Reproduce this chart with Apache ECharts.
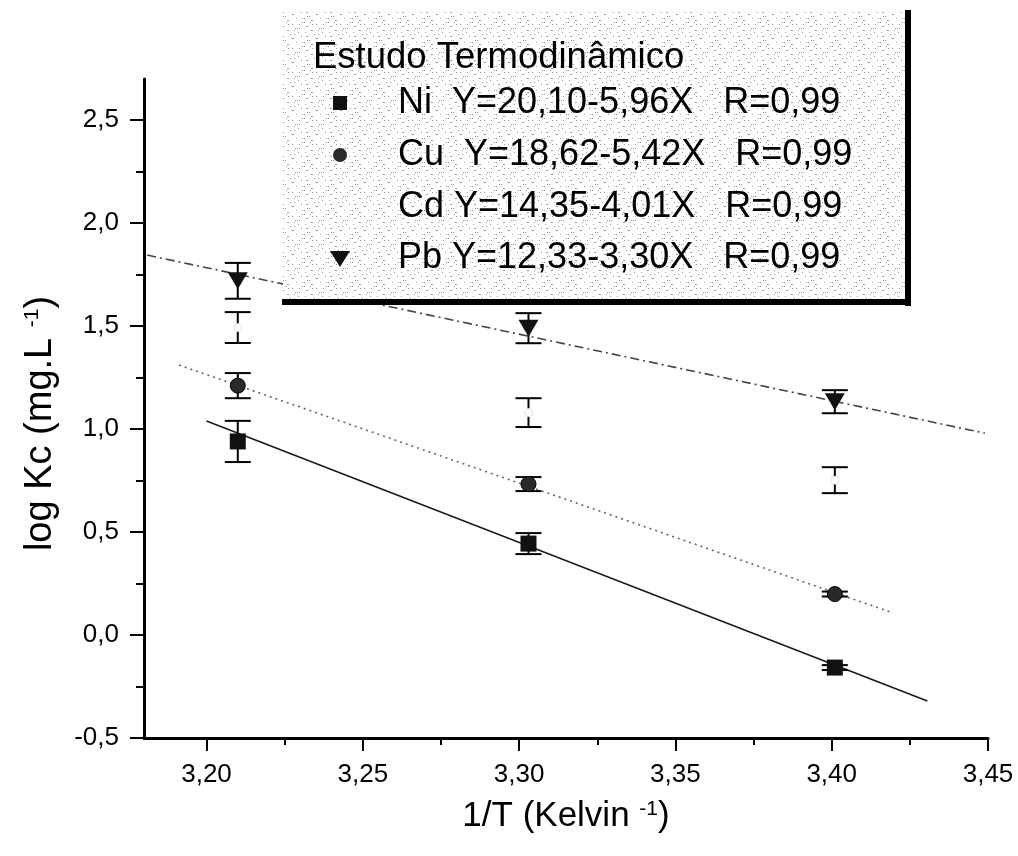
<!DOCTYPE html>
<html><head><meta charset="utf-8">
<script src="https://cdn.jsdelivr.net/npm/echarts@6/dist/echarts.min.js"></script>
<style>html,body{margin:0;padding:0;background:#fff}#c{width:1018px;height:856px}</style>
</head><body><div id="c"></div>
<script>
// ---- data ----
const xValues = [3.210, 3.303, 3.401];
const niValues = [0.940, 0.444, -0.158];
const niErrors = [0.100, 0.051, 0.012];
const cuValues = [1.211, 0.733, 0.199];
const cuErrors = [0.061, 0.034, 0.012];
const cdValues = [1.493, 1.080, 0.752];
const cdErrors = [0.075, 0.070, 0.063];
const pbValues = [1.720, 1.490, 1.133];
const pbErrors = [0.087, 0.073, 0.056];
// fitted line end points (as drawn)
const niFitX = [3.200, 3.4306];
const niFitY = [1.039, -0.320];
const cuFitX = [3.1912, 3.4197];
const cuFitY = [1.311, 0.107];
const pbFitX = [3.181, 3.449];
const pbFitY = [1.845, 0.980];
// ticks
const xTicks = [3.20, 3.25, 3.30, 3.35, 3.40, 3.45];
const xMinorTicks = [3.225, 3.275, 3.325, 3.375, 3.425];
const yTicks = [-0.5, 0, 0.5, 1.0, 1.5, 2.0, 2.5];
const yMinorTicks = [-0.25, 0.25, 0.75, 1.25, 1.75, 2.25];
// legend texts
const legendTitle = 'Estudo Termodinâmico';
const legendLabels = [
  'Ni  Y=20,10-5,96X   R=0,99',
  'Cu  Y=18,62-5,42X   R=0,99',
  'Cd Y=14,35-4,01X   R=0,99',
  'Pb Y=12,33-3,30X   R=0,99'
];

const FONT = "'Liberation Sans', Arial, sans-serif";
const chart = echarts.init(document.getElementById('c'), null, {renderer: 'canvas'});

// stipple texture for the legend box (decoration only)
const pat = document.createElement('canvas');
pat.width = 24; pat.height = 24;
(function(){
  const g = pat.getContext('2d');
  g.fillStyle = '#ffffff'; g.fillRect(0, 0, 24, 24);
  g.fillStyle = '#9a9a9a';
  for (let i = 0; i < 30; i++) {
    const px = (i * 7 + (i * i) % 11) % 24;
    const py = (i * 13 + 5 * (i % 4)) % 24;
    g.fillRect(px, py, 1, 1);
  }
})();

function pairs(xs, ys) { return xs.map((x, i) => [x, ys[i]]); }

function errorSeries(name, vals, errs) {
  return {
    type: 'custom', name: name + ' error', silent: true, z: 4,
    xAxisIndex: 0, yAxisIndex: 0,
    data: xValues.map((x, i) => [x, vals[i], errs[i]]),
    encode: {x: 0, y: 1},
    renderItem: function (params, api) {
      const x = api.value(0), y = api.value(1), e = api.value(2);
      const top = api.coord([x, y + e]);
      const bot = api.coord([x, y - e]);
      const hw = 13;
      const st = {stroke: '#000', lineWidth: 2};
      return {type: 'group', children: [
        {type: 'line', shape: {x1: top[0], y1: top[1], x2: bot[0], y2: bot[1]}, style: st},
        {type: 'line', shape: {x1: top[0] - hw, y1: top[1], x2: top[0] + hw, y2: top[1]}, style: st},
        {type: 'line', shape: {x1: bot[0] - hw, y1: bot[1], x2: bot[0] + hw, y2: bot[1]}, style: st}
      ]};
    }
  };
}

function fitSeries(name, xs, ys, color, type) {
  return {
    type: 'line', name: name + ' fit', data: pairs(xs, ys), showSymbol: false, symbol: 'none',
    silent: true, z: 2, xAxisIndex: 0, yAxisIndex: 0,
    lineStyle: {color: color, width: 1.6, type: type}
  };
}

const grid = {left: 144, top: 79, width: 844, height: 659};
const rowY = [103, 155, 207, 258];
const supStyle = {fontSize: 21, fontFamily: FONT, color: '#000', verticalAlign: 'top'};

const option = {
  animation: false,
  backgroundColor: '#fff',
  grid: [Object.assign({}, grid), Object.assign({}, grid)],
  xAxis: [{
    type: 'value', gridIndex: 0, min: 3.18, max: 3.45, position: 'bottom',
    axisLine: {show: true, onZero: false, lineStyle: {color: '#000', width: 3}},
    axisTick: {show: true, customValues: xTicks, length: 13, lineStyle: {color: '#000', width: 2}},
    axisLabel: {show: true, customValues: xTicks, margin: 24, color: '#000', fontSize: 26, fontFamily: FONT,
      formatter: v => v.toFixed(2).replace('.', ',')},
    splitLine: {show: false},
    name: '1/T (Kelvin {sup|-1})', nameLocation: 'middle', nameGap: 61,
    nameTextStyle: {color: '#000', fontSize: 35, fontFamily: FONT, rich: {sup: supStyle}}
  }, {
    type: 'value', gridIndex: 1, min: 3.18, max: 3.45, position: 'bottom',
    axisLine: {show: false, onZero: false},
    axisTick: {show: true, customValues: xMinorTicks, length: 7, lineStyle: {color: '#000', width: 2}},
    axisLabel: {show: false}, splitLine: {show: false}
  }],
  yAxis: [{
    type: 'value', gridIndex: 0, min: -0.5, max: 2.7, position: 'left',
    axisLine: {show: true, onZero: false, lineStyle: {color: '#000', width: 3}},
    axisTick: {show: true, customValues: yTicks, length: 14, lineStyle: {color: '#000', width: 2}},
    axisLabel: {show: true, customValues: yTicks, margin: 25, color: '#000', fontSize: 26, fontFamily: FONT,
      formatter: v => v.toFixed(1).replace('.', ',')},
    splitLine: {show: false},
    name: 'log Kc (mg.L {sup|-1})', nameLocation: 'middle', nameGap: 84, nameRotate: 90,
    nameTextStyle: {color: '#000', fontSize: 38, fontFamily: FONT, padding: [0, 30, 0, 0],
      rich: {sup: supStyle}}
  }, {
    type: 'value', gridIndex: 1, min: -0.5, max: 2.7, position: 'left',
    axisLine: {show: false, onZero: false},
    axisTick: {show: true, customValues: yMinorTicks, length: 8, lineStyle: {color: '#000', width: 2}},
    axisLabel: {show: false}, splitLine: {show: false}
  }],
  series: [
    fitSeries('Ni', niFitX, niFitY, '#1a1a1a', 'solid'),
    fitSeries('Cu', cuFitX, cuFitY, '#666', [2, 4]),
    fitSeries('Pb', pbFitX, pbFitY, '#444', [9, 4, 2, 4]),
    errorSeries('Ni', niValues, niErrors),
    errorSeries('Cu', cuValues, cuErrors),
    errorSeries('Cd', cdValues, cdErrors),
    errorSeries('Pb', pbValues, pbErrors),
    {type: 'scatter', name: 'Ni', data: pairs(xValues, niValues), symbol: 'rect', symbolSize: 16, z: 6,
      itemStyle: {color: '#111', opacity: 1}},
    {type: 'scatter', name: 'Cu', data: pairs(xValues, cuValues), symbol: 'circle', symbolSize: 15, z: 6,
      itemStyle: {color: '#2a2a2a', borderColor: '#000', borderWidth: 1, opacity: 1}},
    {type: 'scatter', name: 'Cd', data: pairs(xValues, cdValues), symbol: 'circle', symbolSize: 8, z: 6,
      itemStyle: {color: '#ffffff', borderColor: '#e2e2e2', borderWidth: 1, opacity: 1}},
    {type: 'scatter', name: 'Pb', data: pairs(xValues, pbValues), symbol: 'triangle', symbolRotate: 180,
      symbolSize: [20, 17], z: 6, itemStyle: {color: '#111', opacity: 1}}
  ],
  graphic: {elements: [
    {type: 'rect', z: 100, silent: true, shape: {x: 283, y: 12, width: 624, height: 289},
      style: {fill: {image: pat, repeat: 'repeat'}}},
    {type: 'rect', z: 101, silent: true, shape: {x: 905, y: 10, width: 6, height: 296}, style: {fill: '#000'}},
    {type: 'rect', z: 101, silent: true, shape: {x: 282, y: 299, width: 629, height: 6}, style: {fill: '#000'}},
    {type: 'text', z: 102, silent: true, style: {text: legendTitle, x: 313, y: 58, fill: '#000',
      font: '36.5px ' + FONT, verticalAlign: 'middle', textVerticalAlign: 'middle'}},
    {type: 'rect', z: 102, silent: true, shape: {x: 333, y: rowY[0] - 7, width: 14, height: 14}, style: {fill: '#111'}},
    {type: 'circle', z: 102, silent: true, shape: {cx: 340, cy: rowY[1], r: 7}, style: {fill: '#2a2a2a'}},
    {type: 'polygon', z: 102, silent: true, shape: {points: [[330, rowY[3] - 7], [350, rowY[3] - 7], [340, rowY[3] + 9]]}, style: {fill: '#111'}},
    ...legendLabels.map((t, i) => ({type: 'text', z: 102, silent: true,
      style: {text: t, x: 398, y: rowY[i], fill: '#000', font: '36px ' + FONT,
        verticalAlign: 'middle', textVerticalAlign: 'middle'}}))
  ]}
};
chart.setOption(option);
</script></body></html>
